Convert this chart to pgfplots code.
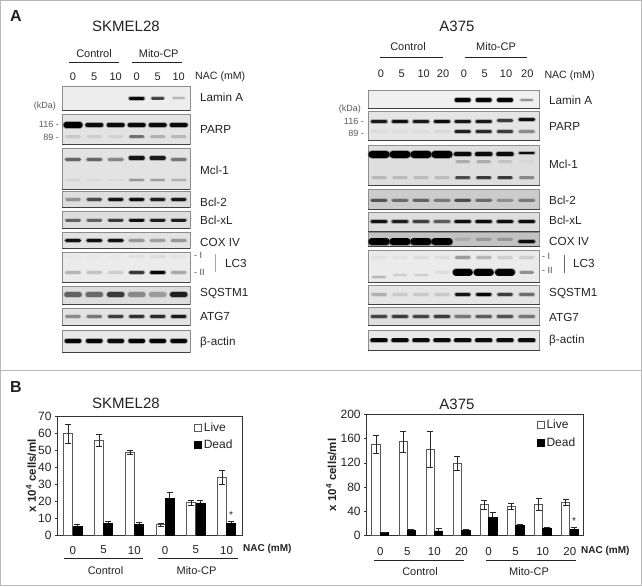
\documentclass[border=0pt]{standalone}
\usepackage{fontspec}
\setmainfont{Liberation Sans}
\usepackage{pgfplots}
\usepackage{pgfplotstable}
\pgfplotsset{compat=1.18}

\definecolor{txt}{HTML}{222222}
\definecolor{frame}{HTML}{B8B8B8}

% y, band thickness, half width, list of x/darkness
\newcommand{\bandrow}[4]{%
  \foreach \xx/\dd in {#4}{%
    \pgfmathsetmacro\xa{\xx-#3-0.8}%
    \pgfmathsetmacro\xb{\xx+#3+0.8}%
    \pgfmathsetmacro\cc{pow(\dd/100,1.25)}%
    \pgfmathsetmacro\oo{\cc*0.3}%
    \pgfmathsetmacro\lw{#2+1.8}%
    \edef\temp{%
      \noexpand\addplot[forget plot, line cap=round, line width=\lw pt, black, opacity=\oo]
        coordinates {(\xa,#1) (\xb,#1)};
      \noexpand\addplot[forget plot, line cap=round, line width=#2pt, black, opacity=\cc]
        coordinates {(\xa,#1) (\xb,#1)};
    }\temp
  }%
}
% x1, x2, y1, y2, fill
\newcommand{\panel}[5]{%
  \addplot[forget plot, fill=#5, draw=black!45, line width=0.6pt]
    coordinates {(#1,#3) (#2,#3) (#2,#4) (#1,#4)} -- cycle;
  \addplot[forget plot, draw=black!75, line width=0.9pt]
    coordinates {(#1,#4) (#2,#4)};
}
\newcommand{\seg}[4]{% x1, y1, x2, y2
  \addplot[forget plot, txt, line width=0.7pt] coordinates {(#1,#2) (#3,#4)};
}
\newcommand{\lab}[3]{\node[anchor=west, font=\fontsize{11.7}{13}\selectfont, text=txt, inner sep=0pt] at (axis cs:#1,#2) {#3};}
\newcommand{\clab}[3]{\node[anchor=center, font=\fontsize{11}{13}\selectfont, text=txt, inner sep=0pt] at (axis cs:#1,#2) {#3};}
\newcommand{\kda}[3]{\node[anchor=east, font=\fontsize{9}{10}\selectfont, text=black!65, inner sep=0pt] at (axis cs:#1,#2) {#3};}

\pgfplotstableread{
x live livee dead deade
0 60 5.5 5 1.2
1 56 3.7 7 1.3
2 49 1.2 6.5 1.2
3 6 1 21.5 3.5
4 19 1.5 19 1.5
5 34 4 7 1
}\skmel
\pgfplotstableread{
x live livee dead deade
0 151 15 5 1
1 155 17 9 1
2 142 30 8 4
3 119 12 9 1
4 51 8 30 8
5 49 5 17 1
6 52 10 13 1
7 55 5 10 4
}\aaa

\pgfplotsset{
  cellbars/.style={
    scale only axis, anchor=south west, ybar, ymin=0,
    axis line style={black!80, line width=0.6pt},
    tick style={black!80, line width=0.6pt},
    ytick pos=left, xtick pos=bottom, xtick style={draw=none},
    y tick label style={font=\fontsize{12}{13}\selectfont, text=txt},
    x tick label style={font=\fontsize{11.5}{13}\selectfont, text=txt},
    /pgf/number format/assume math mode=true,
    tick align=outside, major tick length=2.5pt,
    legend cell align=left,
    legend style={draw=none, fill=none, font=\fontsize{12}{13}\selectfont, text=txt, inner sep=0pt, row sep=3pt},
    clip=false,
  },
  liveb/.style={fill=white, draw=black!65, line width=0.9pt,
    error bars/.cd, y dir=both, y explicit,
    error bar style={black!85, line width=0.6pt},
    error mark options={rotate=90, mark size=3pt, black!85, line width=0.6pt}},
  deadb/.style={fill=black, draw=black,
    error bars/.cd, y dir=plus, y explicit,
    error bar style={black!85, line width=0.6pt},
    error mark options={rotate=90, mark size=3pt, black!85, line width=0.6pt}},
}

\begin{document}
\begin{tikzpicture}
\begin{axis}[
  at={(0pt,0pt)}, anchor=south west, scale only axis,
  width=642pt, height=586pt,
  xmin=0, xmax=642, ymin=0, ymax=586, y dir=reverse,
  hide axis, clip=false, no markers,
]
% figure frame
\addplot[forget plot, frame, line width=1pt] coordinates {(0.5,0.5) (641.5,0.5) (641.5,585.5) (0.5,585.5) (0.5,0.5)};
\addplot[forget plot, frame, line width=1pt] coordinates {(0.5,370.5) (641.5,370.5)};

% panel letters and titles
\node[font=\fontsize{16}{17}\selectfont\bfseries, text=txt] at (axis cs:16,16) {A};
\node[font=\fontsize{16}{17}\selectfont\bfseries, text=txt] at (axis cs:16,387) {B};
\node[font=\fontsize{15}{16}\selectfont, text=txt] at (axis cs:126,26) {SKMEL28};
\node[font=\fontsize{15}{16}\selectfont, text=txt] at (axis cs:457,26) {A375};
\node[font=\fontsize{15}{16}\selectfont, text=txt] at (axis cs:126,403) {SKMEL28};
\node[font=\fontsize{15}{16}\selectfont, text=txt] at (axis cs:457,404) {A375};

% --- SKMEL28 blots ---
\clab{94}{54}{Control} \clab{158.7}{54}{Mito-CP}
\seg{69}{62.3}{119}{62.3} \seg{132.3}{62.3}{182.3}{62.3}
\clab{73}{77}{0} \clab{94.3}{77}{5} \clab{115.7}{77}{10} \clab{136.7}{77}{0} \clab{157.7}{77}{5} \clab{178.7}{77}{10}
\node[anchor=west, font=\fontsize{10.6}{12}\selectfont, text=txt, inner sep=0pt] at (axis cs:195,77) {NAC (mM)};
\kda{56}{106}{(kDa)} \kda{59}{124.5}{116 -} \kda{59}{137}{89 -}

\panel{62.3}{190.3}{86.7}{110.3}{black!7}
\bandrow{98.3}{3.5}{5.5}{136.7/95}
\bandrow{98.3}{2.5}{4.5}{157.7/70}
\bandrow{98.3}{2}{4.5}{178.7/25}
\panel{62.3}{190.3}{114.3}{144.3}{black!11}
\bandrow{125}{5.5}{6}{73/100}
\bandrow{125}{4.5}{6}{94.3/95,115.7/95,136.7/95,157.7/95,178.7/95}
\bandrow{136.7}{2.5}{5.5}{73/14,94.3/12,115.7/9,136.7/50,157.7/25,178.7/22}
\panel{62.3}{190.3}{148.3}{189}{black!11}
\bandrow{159.3}{3.5}{5.5}{73/55,94.3/55,115.7/42,178.7/48}
\bandrow{158}{3.5}{5.5}{136.7/90,157.7/88}
\bandrow{180}{2.5}{5.5}{73/9,94.3/7,115.7/5,136.7/35,157.7/32,178.7/25}
\panel{62.3}{190.3}{191.7}{207.7}{black!13}
\bandrow{199.3}{2.6}{5.5}{73/35,94.3/65,115.7/90,136.7/92,157.7/85,178.7/88}
\panel{62.3}{190.3}{211.7}{228.3}{black!13}
\bandrow{220}{3}{5.5}{73/55,94.3/55,115.7/72,136.7/92,157.7/85,178.7/85}
\panel{62.3}{190.3}{232.7}{248.3}{black!11}
\bandrow{240.3}{3.5}{5.5}{73/92,94.3/92,115.7/92,136.7/35,157.7/32,178.7/35}
\panel{62.3}{190.3}{252.3}{282.7}{black!8}
\bandrow{256.7}{3}{5.5}{73/3,94.3/3,115.7/3,136.7/6,157.7/8,178.7/5}
\bandrow{272.7}{3}{5.5}{73/25,94.3/20,115.7/15,136.7/75,157.7/97,178.7/30}
\panel{62.3}{190.3}{286.7}{304.3}{black!13}
\bandrow{294.7}{5}{5.5}{73/55,94.3/52,115.7/72,136.7/40,157.7/32,178.7/85}
\panel{62.3}{190.3}{308.3}{325.3}{black!11}
\bandrow{316.7}{3}{5.5}{73/40,94.3/48,115.7/72,136.7/78,157.7/80,178.7/88}
\panel{62.3}{190.3}{330.7}{352.7}{black!9}
\bandrow{340.7}{4.2}{5.5}{73/97,94.3/97,115.7/95,136.7/97,157.7/97,178.7/97}

\lab{200}{97}{Lamin A} \lab{200}{129}{PARP} \lab{200}{170}{Mcl-1}
\lab{200}{202}{Bcl-2} \lab{200}{220.5}{Bcl-xL} \lab{200}{242}{COX IV}
\lab{225}{263}{LC3} \lab{200}{294}{SQSTM1} \lab{200}{316}{ATG7} \lab{200}{342}{β-actin}
\node[anchor=west, font=\fontsize{9}{10}\selectfont, text=black!70, inner sep=0pt] at (axis cs:194,255.7) {- I};
\node[anchor=west, font=\fontsize{9}{10}\selectfont, text=black!70, inner sep=0pt] at (axis cs:194,272) {- II};
\addplot[forget plot, black!35, line width=0.8pt] coordinates {(215,254) (215,272)};

% --- A375 blots ---
\clab{408}{47}{Control} \clab{496}{47}{Mito-CP}
\seg{380}{57}{443}{57} \seg{464.7}{57}{527.3}{57}
\clab{381}{73.7}{0} \clab{401.7}{73.7}{5} \clab{423.7}{73.7}{10} \clab{443}{73.7}{20}
\clab{464}{73.7}{0} \clab{484.7}{73.7}{5} \clab{506}{73.7}{10} \clab{527.3}{73.7}{20}
\node[anchor=west, font=\fontsize{10.6}{12}\selectfont, text=txt, inner sep=0pt] at (axis cs:544.3,76) {NAC (mM)};
\kda{361}{109}{(kDa)} \kda{364}{121}{116 -} \kda{364}{133}{89 -}

\panel{368.3}{539.7}{90.7}{108.3}{black!6}
\bandrow{100}{3.5}{5.5}{462.7/97,483.7/97,505/97}
\bandrow{100}{2.5}{4.5}{526.7/40}
\panel{368.3}{539.7}{111.7}{140.7}{black!10}
\bandrow{121.7}{3}{6}{379/88,400/92,421/88,442/95,462.7/88,483.7/88}
\bandrow{120.5}{2.5}{6}{505/72}
\bandrow{119.5}{3}{6}{526.7/92}
\bandrow{131.7}{2.8}{6}{379/5,400/5,421/5,442/8,462.7/85,483.7/80,505/72,526.7/40}
\panel{368.3}{539.7}{145.3}{185.3}{black!13}
\bandrow{154.3}{7.5}{6}{379/100,400/100,421/100,442/100}
\bandrow{154.3}{4}{6}{462.7/95,483.7/95,505/95}
\bandrow{153}{2.5}{6}{526.7/92}
\bandrow{161.7}{2.5}{5}{462.7/25,483.7/25,505/15,526.7/5}
\bandrow{177.7}{2.5}{5.5}{379/20,400/18,421/18,442/18,462.7/65,483.7/72,505/72,526.7/40}
\panel{368.3}{539.7}{189}{209.3}{black!20}
\bandrow{200}{3}{6}{379/58,400/48,421/52,442/42,462.7/62,483.7/48,505/32,526.7/42}
\panel{368.3}{539.7}{212.7}{231.3}{black!13}
\bandrow{221.7}{3.5}{6}{379/90,400/85,421/70,442/58,462.7/92,483.7/96,505/92,526.7/92}
\panel{368.3}{539.7}{232.7}{246.7}{black!24}
\bandrow{241.7}{6.5}{6.5}{379/100,400/100,421/100,442/100}
\bandrow{239}{3}{5.5}{462.7/15,483.7/25,505/25}
\bandrow{241.7}{3.5}{6}{526.7/92}
\panel{368.3}{539.7}{250.7}{282}{black!8}
\bandrow{257.7}{3}{5.5}{379/6,400/6,421/8,442/8,462.7/35,483.7/25,505/15,526.7/15}
\bandrow{277}{2.5}{5}{379/25}
\bandrow{275}{2.5}{5}{400/15,421/15}
\bandrow{272.3}{2.5}{5}{442/8,526.7/40}
\bandrow{272.3}{6.5}{6}{462.7/100,483.7/100,505/97}
\panel{368.3}{539.7}{285.7}{304}{black!10}
\bandrow{294.3}{3.2}{5.5}{379/25,400/15,421/15,442/15,462.7/90,483.7/97,505/72,526.7/52}
\panel{368.3}{539.7}{307.3}{325.3}{black!13}
\bandrow{316.7}{3.2}{6}{379/68,400/72,421/68,442/72,462.7/48,483.7/58,505/62,526.7/48}
\panel{368.3}{539.7}{330}{350.7}{black!9}
\bandrow{340.3}{3.8}{6}{379/97,400/95,421/95,442/95,462.7/95,483.7/95,505/95,526.7/95}

\lab{549}{100}{Lamin A} \lab{549}{126}{PARP} \lab{549}{164}{Mcl-1}
\lab{549}{200}{Bcl-2} \lab{549}{220.5}{Bcl-xL} \lab{549}{241}{COX IV}
\lab{573}{263}{LC3} \lab{549}{293.5}{SQSTM1} \lab{549}{317}{ATG7} \lab{549}{340}{β-actin}
\node[anchor=west, font=\fontsize{9}{10}\selectfont, text=black!70, inner sep=0pt] at (axis cs:542,256.7) {- I};
\node[anchor=west, font=\fontsize{9}{10}\selectfont, text=black!70, inner sep=0pt] at (axis cs:542,270.7) {- II};
\addplot[forget plot, black!60, line width=0.8pt] coordinates {(564.3,255) (564.3,273)};

% --- B panel annotations ---
\node[anchor=west, font=\fontsize{10}{12}\selectfont\bfseries, text=txt, inner sep=0pt] at (axis cs:243,549) {NAC (mM)};
\seg{64}{558}{143}{558} \seg{158}{558}{238}{558}
\clab{105.5}{571}{Control} \clab{196.5}{571}{Mito-CP}
\node[font=\fontsize{10}{11}\selectfont, text=txt] at (axis cs:231,515) {*};
\node[anchor=west, font=\fontsize{10}{12}\selectfont\bfseries, text=txt, inner sep=0pt] at (axis cs:581,551) {NAC (mM)};
\seg{374}{560}{464}{560} \seg{486}{560}{576}{560}
\clab{420}{572}{Control} \clab{529}{572}{Mito-CP}
\node[font=\fontsize{10}{11}\selectfont, text=txt] at (axis cs:574,521) {*};
\end{axis}

% SKMEL28 counts
\begin{axis}[
  cellbars, at={(57.5pt,51pt)}, width=184.5pt, height=118.3pt,
  ymax=70, ytick={0,10,...,70},
  xmin=-0.5, xmax=5.5, xtick={0,...,5}, xticklabels={0,5,10,0,5,10},
  x tick label style={yshift=-5pt},
  bar width=9pt,
  ylabel={\textbf{x 10\textsuperscript{4} cells/ml}},
  every axis y label/.style={at={(axis description cs:-0.143,0.5)}, rotate=90, anchor=center, font=\fontsize{11.5}{13}\selectfont, text=txt},
  legend style={at={(0.74,0.97)}, anchor=north west},
  legend image code/.code={\draw[#1, line width=0.6pt] (0pt,-3.5pt) rectangle (7pt,3.5pt);},
]
\addplot[bar shift=-4.5pt, liveb] table[x=x, y=live, y error=livee] {\skmel};
\addplot[bar shift=4.5pt, deadb] table[x=x, y=dead, y error=deade] {\skmel};
\legend{Live,Dead}
\end{axis}

% A375 counts
\begin{axis}[
  cellbars, at={(366.7pt,50.3pt)}, width=216.6pt, height=121.4pt,
  ymax=200, ytick={0,40,...,200},
  xmin=-0.5, xmax=7.5, xtick={0,...,7}, xticklabels={0,5,10,20,0,5,10,20},
  x tick label style={yshift=-6pt},
  bar width=8.3pt,
  ylabel={\textbf{x 10\textsuperscript{4} cells/ml}},
  every axis y label/.style={at={(axis description cs:-0.164,0.5)}, rotate=90, anchor=center, font=\fontsize{11.5}{13}\selectfont, text=txt},
  legend style={at={(0.785,0.97)}, anchor=north west},
  legend image code/.code={\draw[#1, line width=0.6pt] (0pt,-3.5pt) rectangle (7pt,3.5pt);},
]
\addplot[bar shift=-4.15pt, liveb] table[x=x, y=live, y error=livee] {\aaa};
\addplot[bar shift=4.15pt, deadb] table[x=x, y=dead, y error=deade] {\aaa};
\legend{Live,Dead}
\end{axis}
\end{tikzpicture}
\end{document}
